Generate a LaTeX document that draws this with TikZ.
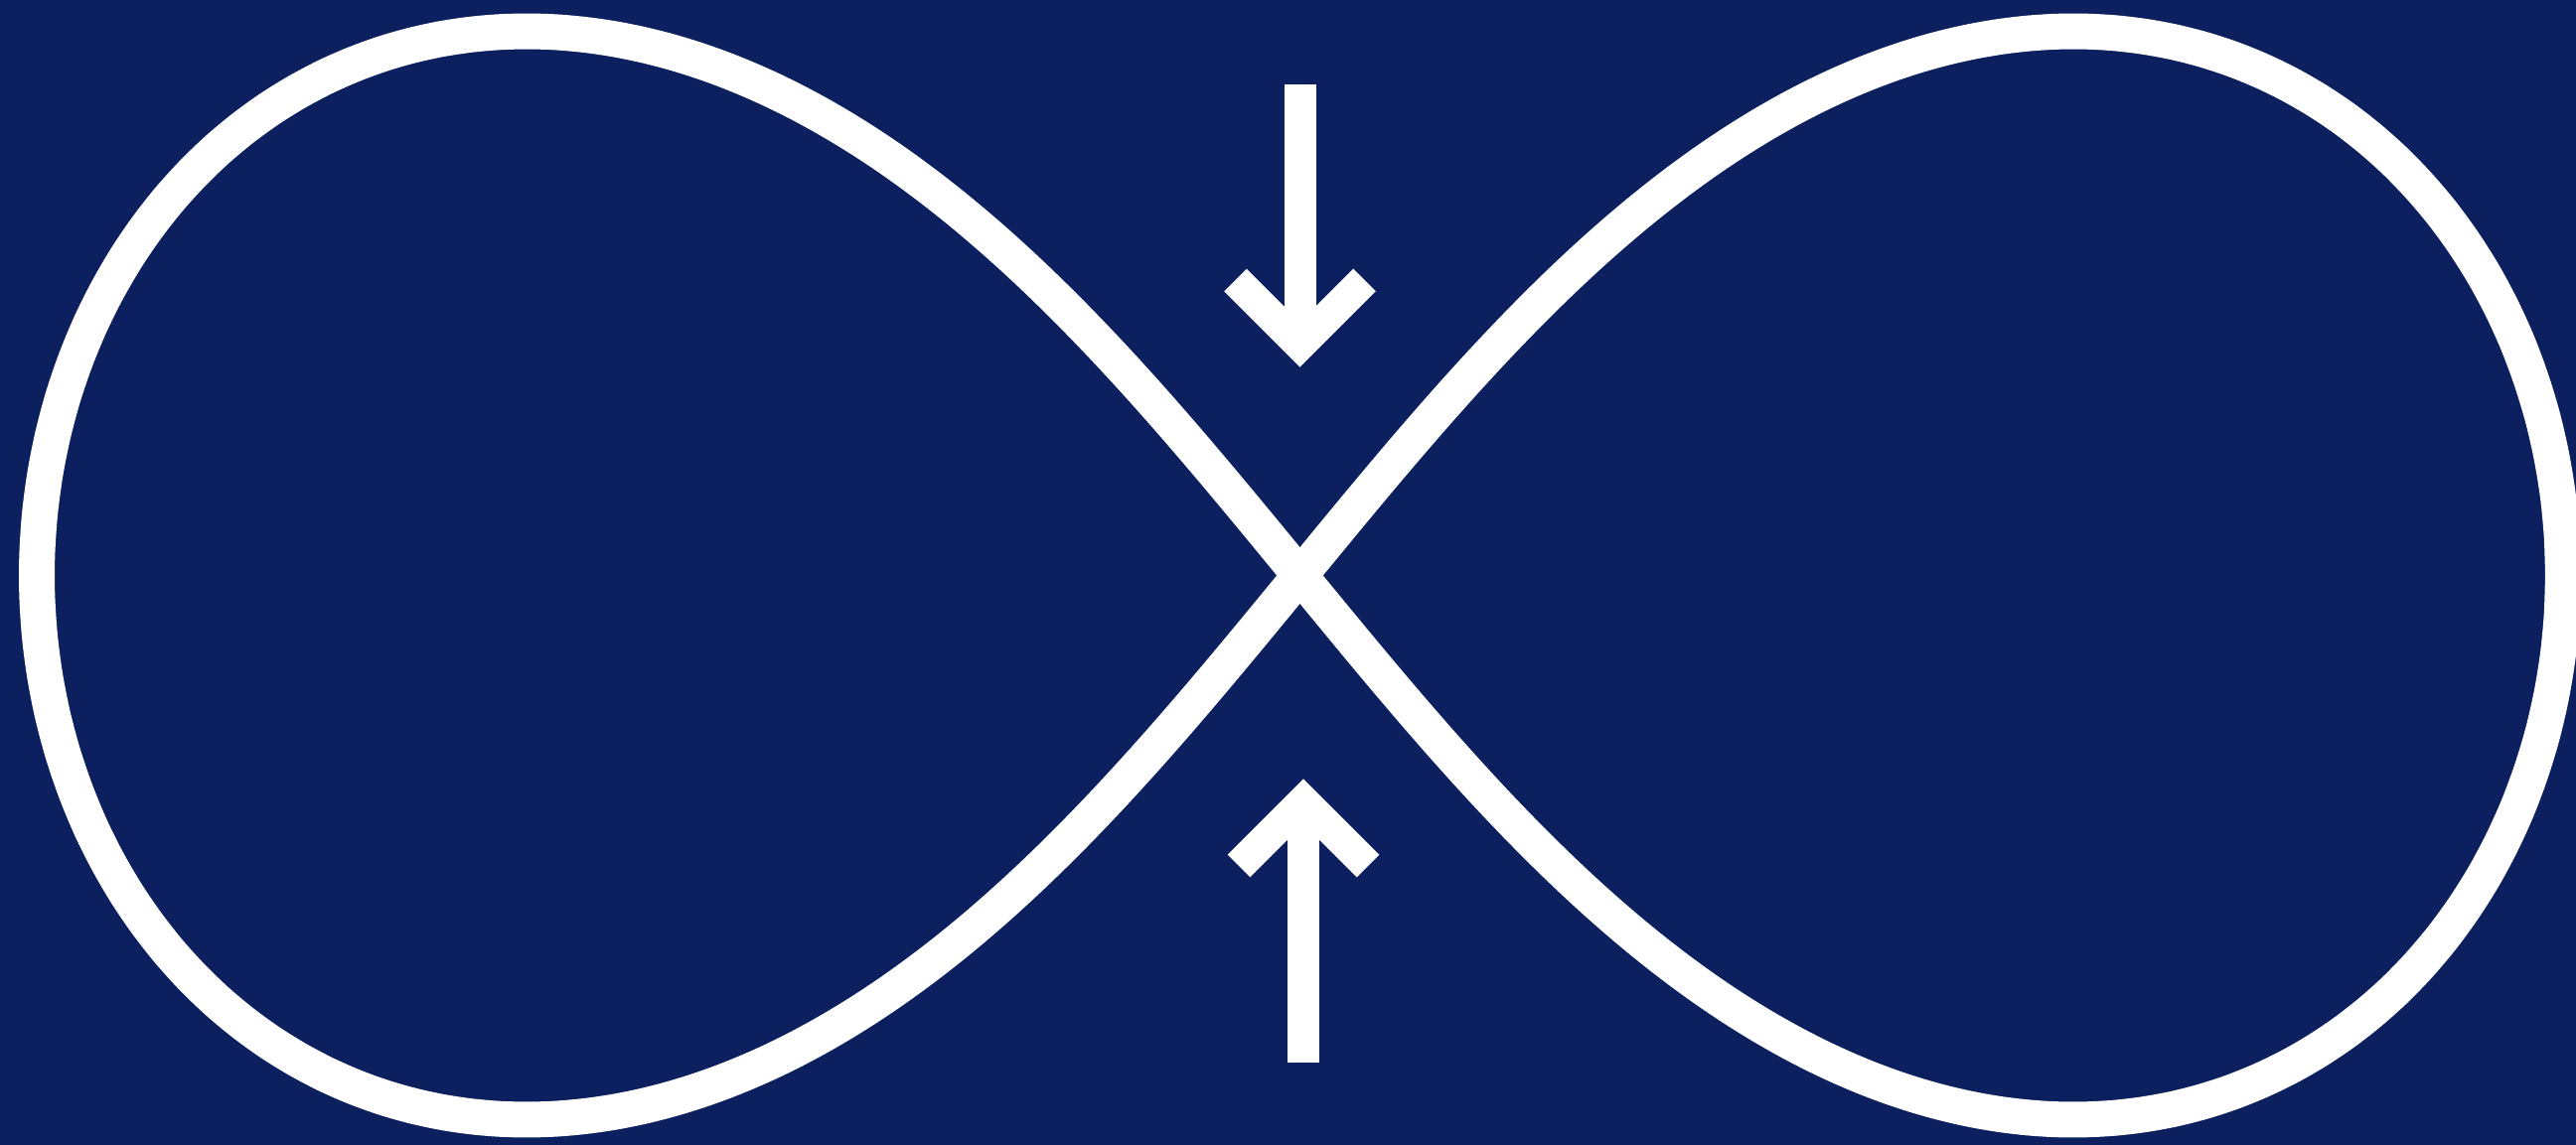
\documentclass[tikz,border=0pt]{standalone}
\usepackage{xcolor}
\usepackage{tikz}
\usetikzlibrary{calc, positioning}

\definecolor{navy}{RGB}{12,31,94}

\begin{document}
\begin{tikzpicture}[loopline/.style={white, line width=0.36cm},
    arrowline/.style={white, line width=0.32cm, line join=miter}]
    % Nền và khung
    \useasboundingbox (-13.085,-5.725) rectangle (12.845,5.795);
    \clip (-13.085,-5.725) rectangle (12.845,5.795);
    \fill[navy] (-14,-7) rectangle (14,7);

    % Các điểm mốc
    \coordinate (O) at (0,0);
    \coordinate (topstart) at (0,4.945);
    \coordinate (toptip) at (0,2.325);
    \coordinate (botstart) at (0.035,-4.905);
    \coordinate (bottip) at (0.035,-2.275);

    % Vẽ đường lemniscate
    \draw[loopline, variable=\t, samples=240, domain=0:360, smooth]
        plot ({12.715*cos(\t)/(1+sin(\t)^2)}, {15.5*sin(\t)*cos(\t)/(1+sin(\t)^2)}) -- cycle;

    % Mũi tên phía trên
    \draw[arrowline] (topstart) -- (toptip);
    \draw[arrowline] ($(toptip)+(-0.65,0.65)$) -- (toptip) -- ($(toptip)+(0.65,0.65)$);
    % Mũi tên phía dưới
    \draw[arrowline] (botstart) -- (bottip);
    \draw[arrowline] ($(bottip)+(-0.65,-0.65)$) -- (bottip) -- ($(bottip)+(0.65,-0.65)$);
\end{tikzpicture}
\end{document}
